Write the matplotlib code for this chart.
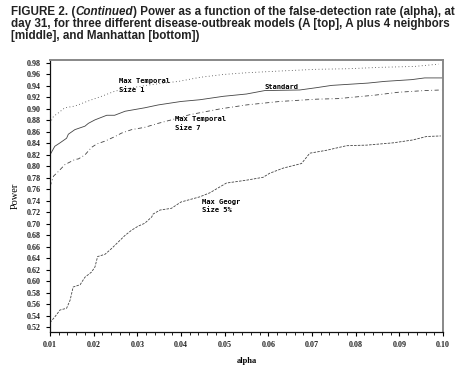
import matplotlib
matplotlib.use('Agg')
import matplotlib.pyplot as plt
import numpy as np

# data (alpha -> power)
standard_alpha = [0.0100, 0.0111, 0.0123, 0.0138, 0.0142, 0.0157, 0.0180, 0.0188, 0.0203, 0.0230,
                  0.0248, 0.0272, 0.0317, 0.0348, 0.0400, 0.0443, 0.0497, 0.0550, 0.0592, 0.0672,
                  0.0710, 0.0745, 0.0828, 0.0867, 0.0928, 0.0958, 0.1000]
standard_power = [0.820, 0.835, 0.841, 0.849, 0.856, 0.864, 0.870, 0.875, 0.881, 0.889,
                  0.889, 0.896, 0.902, 0.907, 0.913, 0.916, 0.922, 0.926, 0.932, 0.933,
                  0.937, 0.941, 0.945, 0.948, 0.951, 0.954, 0.954]

size1_alpha = [0.0100, 0.0108, 0.0119, 0.0134, 0.0157, 0.0188, 0.0218, 0.0249, 0.0280, 0.0320,
               0.0360, 0.0395, 0.0443, 0.0497, 0.0550, 0.0626, 0.0710, 0.0782, 0.0859, 0.0935, 0.0990]
size1_power = [0.875, 0.887, 0.893, 0.902, 0.905, 0.914, 0.922, 0.931, 0.936, 0.941,
               0.945, 0.948, 0.955, 0.960, 0.963, 0.966, 0.969, 0.970, 0.9725, 0.974, 0.978]

size7_alpha = [0.0100, 0.0108, 0.0119, 0.0134, 0.0157, 0.0165, 0.0180, 0.0195, 0.0207, 0.0226,
               0.0249, 0.0264, 0.0287, 0.0317, 0.0348, 0.0378, 0.0420, 0.0489, 0.0550, 0.0626,
               0.0710, 0.0760, 0.0844, 0.0897, 0.0958, 0.0996]
size7_power = [0.765, 0.783, 0.791, 0.803, 0.812, 0.813, 0.820, 0.833, 0.839, 0.844,
               0.852, 0.858, 0.864, 0.868, 0.875, 0.881, 0.890, 0.900, 0.907, 0.913,
               0.917, 0.918, 0.924, 0.929, 0.932, 0.933]

geo_alpha = [0.0100, 0.0111, 0.0123, 0.0138, 0.0146, 0.0153, 0.0169, 0.0180, 0.0195, 0.0203,
             0.0209, 0.0226, 0.0241, 0.0272, 0.0287, 0.0302, 0.0317, 0.0333, 0.0336, 0.0352,
             0.0378, 0.0400, 0.0443, 0.0466, 0.0504, 0.0550, 0.0588, 0.0603, 0.0634, 0.0676,
             0.0695, 0.0733, 0.0779, 0.0825, 0.0886, 0.0931, 0.0962, 0.0995]
geo_power = [0.528, 0.538, 0.550, 0.553, 0.567, 0.590, 0.594, 0.607, 0.616, 0.625,
             0.643, 0.647, 0.657, 0.680, 0.689, 0.696, 0.701, 0.712, 0.717, 0.724,
             0.727, 0.738, 0.747, 0.754, 0.771, 0.776, 0.781, 0.788, 0.797, 0.805,
             0.823, 0.828, 0.836, 0.837, 0.841, 0.846, 0.852, 0.853]

x_ticks = np.arange(1, 11) / 100
y_ticks = np.arange(52, 99, 2) / 100

# 1. figure + title
fig = plt.figure(figsize=(4.68, 3.74), dpi=100)
renderer = fig.canvas.get_renderer()

title_font = dict(family='Liberation Sans', weight='bold', size=8.4, color='#222222')

def put_pieces(x, y, pieces):
    # write text pieces one after another on one line
    for txt, style in pieces:
        t = fig.text(x, y, txt, ha='left', va='center', fontstyle=style, **title_font)
        bb = t.get_window_extent(renderer=renderer)
        x += bb.width / fig.bbox.width

put_pieces(11 / 468, 1 - 12 / 374, [("FIGURE 2. (", 'normal'), ("Continued", 'italic'),
                                   (") Power as a function of the false-detection rate (alpha), at", 'normal')])
put_pieces(11 / 468, 1 - 24 / 374, [("day 31, for three different disease-outbreak models (A [top], A plus 4 neighbors", 'normal')])
put_pieces(11 / 468, 1 - 36 / 374, [("[middle], and Manhattan [bottom])", 'normal')])

# 2. axes
ax = fig.add_axes([50 / 468, 1 - 332 / 374, 393 / 468, 272 / 374])
line_kw = dict(color='#444444', linewidth=0.6)
ax.plot(standard_alpha, standard_power, linestyle='-', **line_kw)
ax.plot(size1_alpha, size1_power, linestyle=(0, (1, 3)), **line_kw)
ax.plot(size7_alpha, size7_power, linestyle=(0, (5, 3, 1, 3)), **line_kw)
ax.plot(geo_alpha, geo_power, linestyle=(0, (3, 1.5)), **line_kw)

lab_font = dict(family='DejaVu Sans Mono', weight='bold', size=5.1, va='center', ha='left')
ax.text(0.0257, 0.9495, "Max Temporal", **lab_font)
ax.text(0.0257, 0.9335, "Size 1", **lab_font)
ax.text(0.0592, 0.9385, "Standard", **lab_font)
ax.text(0.0386, 0.883, "Max Temporal", **lab_font)
ax.text(0.0386, 0.866, "Size 7", **lab_font)
ax.text(0.0447, 0.738, "Max Geogr", **lab_font)
ax.text(0.0447, 0.7245, "Size 5%", **lab_font)

ax.set_xlim(0.01, 0.10)
ax.set_ylim(0.5117, 0.9852)
ax.set_xticks(x_ticks)
ax.set_xticks(np.arange(10, 101, 2) / 1000, minor=True)
ax.set_xticklabels([f"{v:.2f}" for v in x_ticks])
ax.set_yticks(y_ticks)
ax.set_yticklabels([f"{v:.2f}" for v in y_ticks])

tick_font = dict(family='Liberation Serif', weight='bold', size=5.8)
for lbl in ax.get_xticklabels() + ax.get_yticklabels():
    lbl.set_fontfamily(tick_font['family'])
    lbl.set_fontweight(tick_font['weight'])
    lbl.set_fontsize(tick_font['size'])
    lbl.set_color('#222222')

ax.tick_params(axis='both', which='major', length=3, width=0.8, direction='out', pad=3.5)
ax.tick_params(axis='x', which='minor', length=2, width=0.6, direction='out')

ax.set_xlabel("alpha", family='Liberation Serif', weight='bold', size=6, labelpad=6)
ax.set_ylabel("Power", family='Liberation Serif', size=7.5, labelpad=5)

for side in ['left', 'bottom']:
    ax.spines[side].set_color('#111111')
    ax.spines[side].set_linewidth(0.9)
for side in ['top', 'right']:
    ax.spines[side].set_color('#888888')
    ax.spines[side].set_linewidth(1.4)

fig.savefig('out.png', dpi=100)
